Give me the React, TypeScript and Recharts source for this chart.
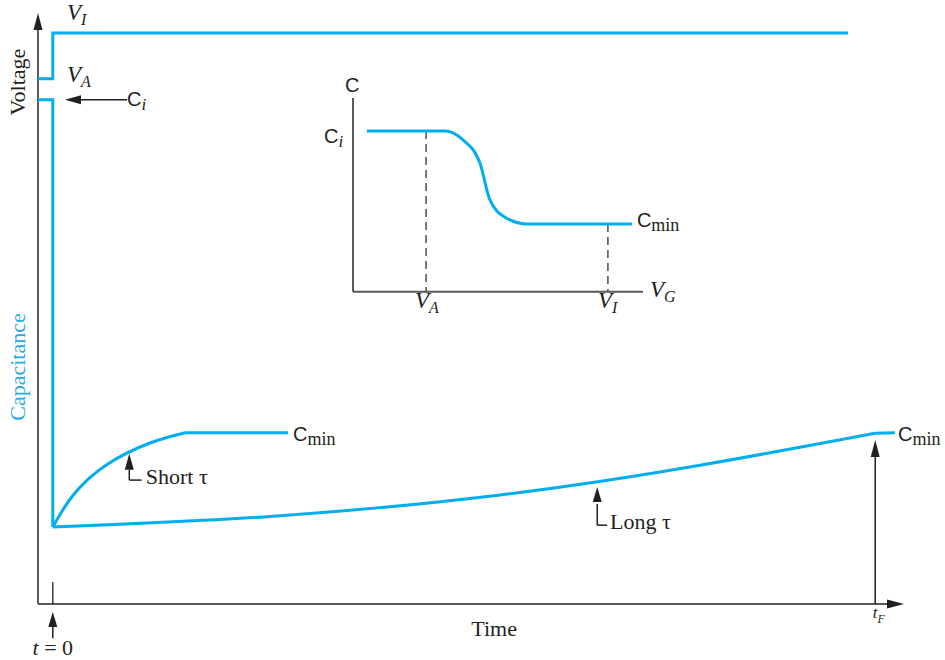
import React from 'react';
import { LineChart, Line, XAxis, YAxis, ReferenceLine, ReferenceDot } from 'recharts';

const BLUE = '#00AEEF';
const LABEL_BLUE = '#29ABE2';
const AXIS = '#58595B';
const INK = '#231F20';
const DASH = '#4D4D4F';
const SERIF = '"Liberation Serif", "Times New Roman", serif';
const SANS = '"Liberation Sans", Arial, sans-serif';

type Pt = { t: number; y: number };

// ---------- main chart (time axis, arbitrary units) ----------
const T_MIN = -1.8;
const T_MAX = 103.5;
const Y_MAX = 103.5;
const T_F = 100;
const C_I = 88.3;
const C_MIN = 30;
const V_A_LEVEL = 92;
const V_I_LEVEL = 100;

const voltageStep: Pt[] = [
  { t: T_MIN, y: V_A_LEVEL },
  { t: 0, y: V_A_LEVEL },
  { t: 0, y: V_I_LEVEL },
  { t: 96.7, y: V_I_LEVEL },
];
const capacitanceStep: Pt[] = [
  { t: T_MIN, y: C_I },
  { t: 0, y: C_I },
  { t: 0, y: 13.5 },
];
const shortTauRise: Pt[] = [
  { t: 0, y: 13.5 },
  { t: 2.49, y: 19.1 },
  { t: 6.55, y: 24.4 },
  { t: 11.82, y: 28.2 },
  { t: 16.1, y: C_MIN },
];
const shortTauFlat: Pt[] = [
  { t: 16.1, y: C_MIN },
  { t: 28.6, y: C_MIN },
];
const longTauRise: Pt[] = [
  { t: 0, y: 13.5 },
  { t: 26.0, y: 15.3 },
  { t: 54.4, y: 19.1 },
  { t: 78.7, y: 24.3 },
  { t: 100, y: 29.9 },
];
const longTauFlat: Pt[] = [
  { t: 100, y: 29.9 },
  { t: 102.4, y: C_MIN },
];

// ---------- inset chart (C vs V_G) ----------
const VG_MAX = 10;
const CI_MAX = 10;
const INSET_VA = 2.52;
const INSET_VI = 8.79;
const INSET_CI = 8.3;
const INSET_CMIN = 3.5;
const cvCurve: Pt[] = [
  { t: 0.48, y: 8.3 },
  { t: 3.17, y: 8.3 },
  { t: 3.8, y: 7.83 },
  { t: 4.38, y: 6.63 },
  { t: 4.72, y: 4.75 },
  { t: 5.3, y: 3.79 },
  { t: 5.99, y: 3.5 },
  { t: 9.62, y: 3.5 },
];

// ---------- helpers ----------
type Dir = 'up' | 'left' | 'right';
const head = (dir: Dir, len = 16, half = 4.5) => (p: any) => {
  const { cx, cy } = p;
  let pts = '';
  if (dir === 'up') pts = `${cx},${cy} ${cx - half},${cy + len} ${cx + half},${cy + len}`;
  if (dir === 'left') pts = `${cx},${cy} ${cx + len},${cy - half} ${cx + len},${cy + half}`;
  if (dir === 'right') pts = `${cx},${cy} ${cx - len},${cy - half} ${cx - len},${cy + half}`;
  return <polygon points={pts} fill={INK} />;
};

const txt = (render: (x: number, y: number) => React.ReactElement) => (p: any) => render(p.cx, p.cy);

const dot = (key: string, x: number, y: number, shape: any) => (
  <ReferenceDot key={key} x={x} y={y} r={0} ifOverflow="visible" shape={shape} />
);

const seg = (key: string, a: Pt, b: Pt, stroke: string, width: number, dash?: string) => (
  <ReferenceLine
    key={key}
    segment={[{ x: a.t, y: a.y }, { x: b.t, y: b.y }]}
    stroke={stroke}
    strokeWidth={width}
    strokeDasharray={dash}
    ifOverflow="visible"
  />
);

const cLabel = (sub: string, italicSub: boolean) =>
  txt((x, y) => (
    <text x={x} y={y} fill={INK}>
      <tspan fontFamily={SANS} fontSize={20}>C</tspan>
      <tspan fontFamily={SERIF} fontSize={italicSub ? 17 : 18} fontStyle={italicSub ? 'italic' : 'normal'} dy={4}>
        {sub}
      </tspan>
    </text>
  ));

const cLabelEnd = (sub: string) =>
  txt((x, y) => (
    <text x={x} y={y} fill={INK} textAnchor="end">
      <tspan fontFamily={SANS} fontSize={20}>C</tspan>
      <tspan fontFamily={SERIF} fontSize={17} fontStyle="italic" dy={4}>
        {sub}
      </tspan>
    </text>
  ));

const vLabel = (main: string, sub: string, size = 23, subSize = 16) =>
  txt((x, y) => (
    <text x={x} y={y} fill={INK} fontFamily={SERIF} fontStyle="italic">
      <tspan fontSize={size}>{main}</tspan>
      <tspan fontSize={subSize} dy={5}>{sub}</tspan>
    </text>
  ));

const plain = (s: string, anchor: 'start' | 'middle' | 'end' = 'start') =>
  txt((x, y) => (
    <text x={x} y={y} fill={INK} fontFamily={SERIF} fontSize={22} textAnchor={anchor}>
      {s}
    </text>
  ));

const rotated = (s: string, color: string) =>
  txt((x, y) => (
    <text
      transform={`translate(${x},${y}) rotate(-90)`}
      fill={color}
      fontFamily={SERIF}
      fontSize={22}
      textAnchor="middle"
    >
      {s}
    </text>
  ));

const blueLine = (data: Pt[], type: 'linear' | 'natural' | 'monotone') => (
  <Line
    data={data}
    dataKey="y"
    type={type}
    stroke={BLUE}
    strokeWidth={3}
    dot={false}
    activeDot={false}
    isAnimationActive={false}
  />
);

export default function App() {
  return (
    <div style={{ position: 'absolute', left: 0, top: 0, width: 945, height: 660, background: '#fff' }}>
      <LineChart
        width={945}
        height={660}
        margin={{ top: 13, left: 38, right: 41, bottom: 56 }}
        style={{ position: 'absolute', left: 0, top: 0 }}
      >
        <XAxis dataKey="t" type="number" domain={[T_MIN, T_MAX]} hide allowDataOverflow />
        <YAxis dataKey="y" type="number" domain={[0, Y_MAX]} hide allowDataOverflow />

        {/* axes */}
        {seg('xaxis', { t: T_MIN, y: 0 }, { t: T_MAX - 1, y: 0 }, AXIS, 2)}
        {seg('yaxis', { t: T_MIN, y: 0 }, { t: T_MIN, y: Y_MAX - 1 }, AXIS, 2)}
        {dot('xhead', T_MAX, 0, head('right', 17, 4.5))}
        {dot('yhead', T_MIN, Y_MAX, head('up', 17, 4.5))}

        {/* t = 0 tick */}
        {seg('t0tick', { t: 0, y: 0 }, { t: 0, y: 3.85 }, INK, 1.3)}

        {blueLine(voltageStep, 'linear')}
        {blueLine(capacitanceStep, 'linear')}
        {blueLine(shortTauRise, 'natural')}
        {blueLine(shortTauFlat, 'linear')}
        {blueLine(longTauRise, 'natural')}
        {blueLine(longTauFlat, 'linear')}

        {/* arrows */}
        {seg('ciShaft', { t: 2.5, y: C_I }, { t: 9.03, y: C_I }, INK, 1.5)}
        {dot('ciHead', 1.48, C_I, head('left', 16, 4.5))}

        {seg('stShaft', { t: 9.3, y: 23.5 }, { t: 9.3, y: 21.7 }, INK, 1.5)}
        {seg('stElbow', { t: 9.3, y: 21.7 }, { t: 10.8, y: 21.7 }, INK, 1.5)}
        {dot('stHead', 9.3, 26.3, head('up', 16, 4.5))}

        {seg('ltShaft', { t: 66.2, y: 17.5 }, { t: 66.2, y: 13.8 }, INK, 1.5)}
        {seg('ltElbow', { t: 66.2, y: 13.8 }, { t: 67.4, y: 13.8 }, INK, 1.5)}
        {dot('ltHead', 66.2, 20.5, head('up', 15, 4.5))}

        {seg('tfShaft', { t: T_F, y: 0 }, { t: T_F, y: 26 }, INK, 1.5)}
        {dot('tfHead', T_F, 28.7, head('up', 17, 4.5))}

        {seg('t0Shaft', { t: 0, y: -4 }, { t: 0, y: -6.0 }, INK, 1.5)}
        {dot('t0Head', 0, -1.4, head('up', 15, 4.5))}

        {/* labels */}
        {dot('lVI', 1.73, 102.3, vLabel('V', 'I'))}
        {dot('lVA', 1.73, 91.4, vLabel('V', 'A'))}
        {dot('lCi', 9.03, 87.2, cLabel('i', true))}
        {dot('lCmin1', 29.2, 28.6, cLabel('min', false))}
        {dot('lCmin2', 102.77, 28.6, cLabel('min', false))}
        {dot('lShort', 11.3, 21.0, plain('Short τ'))}
        {dot('lLong', 67.75, 13.1, plain('Long τ'))}
        {dot('lTime', 53.66, -5.6, plain('Time', 'middle'))}
        {dot('lt0', 0, -8.9, txt((x, y) => (
          <text x={x} y={y} fill={INK} fontFamily={SERIF} fontSize={22} textAnchor="middle">
            <tspan fontStyle="italic">t</tspan>
            <tspan> = 0</tspan>
          </text>
        )))}
        {dot('ltF', 99.7, -2.5, vLabel('t', 'F', 17, 12))}
        {dot('lVoltage', -3.44, 91.4, rotated('Voltage', INK))}
        {dot('lCap', -3.44, 41.5, rotated('Capacitance', LABEL_BLUE))}
      </LineChart>

      <LineChart
        width={400}
        height={270}
        margin={{ top: 38, left: 53, right: 57, bottom: 38.3 }}
        style={{ position: 'absolute', left: 300, top: 60 }}
      >
        <XAxis dataKey="t" type="number" domain={[0, VG_MAX]} hide allowDataOverflow />
        <YAxis dataKey="y" type="number" domain={[0, CI_MAX]} hide allowDataOverflow />

        {seg('ixaxis', { t: 0, y: 0 }, { t: VG_MAX, y: 0 }, AXIS, 2)}
        {seg('iyaxis', { t: 0, y: 0 }, { t: 0, y: CI_MAX }, AXIS, 2)}

        {seg('dashA', { t: INSET_VA, y: INSET_CI }, { t: INSET_VA, y: 0 }, DASH, 1.5, '8 5')}
        {seg('dashI', { t: INSET_VI, y: INSET_CMIN }, { t: INSET_VI, y: 0 }, DASH, 1.5, '8 5')}

        {blueLine(cvCurve, 'monotone')}

        {dot('iC', -0.03, 10.31, txt((x, y) => (
          <text x={x} y={y} fill={INK} fontFamily={SANS} fontSize={20} textAnchor="middle">C</text>
        )))}
        {dot('iCi', -0.34, 7.68, cLabelEnd('i'))}
        {dot('iCmin', 9.79, 3.34, cLabel('min', false))}
        {dot('iVA', 2.14, -0.84, vLabel('V', 'A'))}
        {dot('iVI', 8.45, -0.84, vLabel('V', 'I'))}
        {dot('iVG', 10.24, -0.27, vLabel('V', 'G'))}
      </LineChart>
    </div>
  );
}
